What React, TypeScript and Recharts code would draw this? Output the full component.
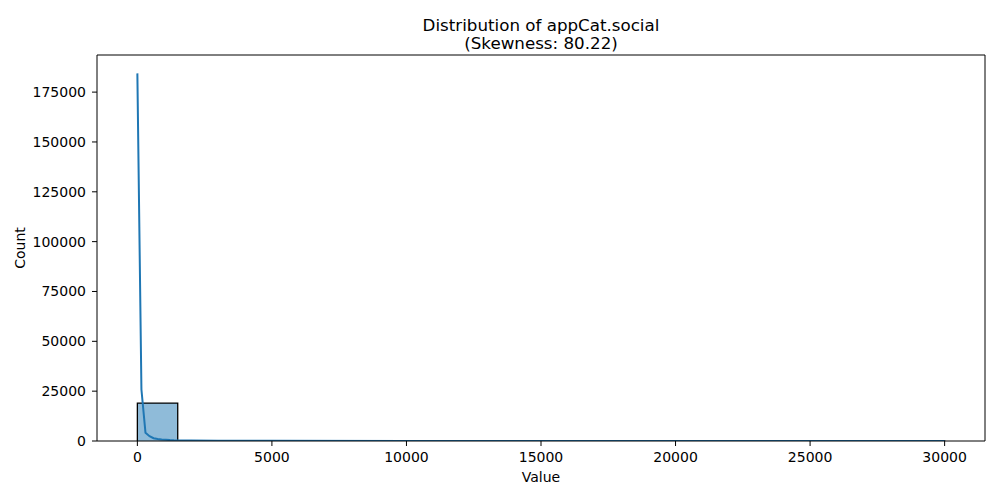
import {
  ComposedChart,
  Area,
  Line,
  XAxis,
  YAxis,
  Label,
} from "recharts";

// histogram of appCat.social: 20 bins of width 1500 between 0 and 30000
const binEdges = [
  0, 1500, 3000, 4500, 6000, 7500, 9000, 10500, 12000, 13500, 15000,
  16500, 18000, 19500, 21000, 22500, 24000, 25500, 27000, 28500, 30000,
];
const binCounts = [
  19000, 12, 5, 3, 2, 1, 1, 0, 1, 0, 0, 1, 0, 0, 0, 0, 0, 0, 0, 1,
];

// kde curve (scaled to counts)
const kdeX = [
  0, 151, 302, 452, 603, 754, 905, 1055, 1206, 1357, 1508, 2000, 3000,
  5000, 10000, 15000, 20000, 25000, 30000,
];
const kdeY = [
  184400, 25800, 4100, 2400, 1400, 1000, 750, 600, 450, 350, 300, 200, 120,
  80, 40, 20, 10, 10, 10,
];

const xTicks = [0, 5000, 10000, 15000, 20000, 25000, 30000];
const yTicks = [0, 25000, 50000, 75000, 100000, 125000, 150000, 175000];

const titleLines = ["Distribution of appCat.social", "(Skewness: 80.22)"];

// step outline for the bars, built from the bins
const histData = [
  { x: binEdges[0], h: 0 },
  ...binCounts.map((c, i) => ({ x: binEdges[i], h: c })),
  { x: binEdges[binEdges.length - 1], h: 0 },
];
const kdeData = kdeX.map((x, i) => ({ x, y: kdeY[i] }));

const font = "'DejaVu Sans', sans-serif";
const tickStyle = { fill: "#000", fontSize: 14, fontFamily: font };

const App = () => {
  const yMax = Math.max(...kdeY) * 1.05;

  return (
    <div style={{ position: "absolute", left: 0, top: 0, width: 1000, height: 500, background: "#fff" }}>
      {/* title */}
      <div
        style={{
          position: "absolute",
          left: 97,
          width: 888,
          top: 15.5,
          textAlign: "center",
          fontFamily: font,
          fontSize: 16.7,
          lineHeight: "18.5px",
          color: "#000",
        }}
      >
        {titleLines.map((t) => (
          <div key={t}>{t}</div>
        ))}
      </div>

      <ComposedChart
        width={1000}
        height={500}
        margin={{ top: 54, right: 14, bottom: 0, left: 0 }}
      >
        <XAxis
          dataKey="x"
          type="number"
          domain={[-1500, 31500]}
          ticks={xTicks}
          allowDataOverflow
          height={59}
          tickSize={5}
          tickMargin={6}
          tick={tickStyle}
          stroke="#000"
          tickLine={{ stroke: "#000" }}
          axisLine={{ stroke: "#000" }}
        >
          <Label
            content={({ viewBox }: any) => (
              <text
                x={viewBox.x + viewBox.width / 2}
                y={viewBox.y + 35.5}
                textAnchor="middle"
                dominantBaseline="central"
                fontFamily={font}
                fontSize={14}
                fill="#000"
              >
                Value
              </text>
            )}
          />
        </XAxis>
        <XAxis
          xAxisId="top"
          orientation="top"
          type="number"
          domain={[-1500, 31500]}
          height={1}
          tick={false}
          tickLine={false}
          axisLine={{ stroke: "#000" }}
        />
        <YAxis
          type="number"
          domain={[0, yMax]}
          ticks={yTicks}
          allowDataOverflow
          width={97}
          tickSize={5}
          tickMargin={6}
          tick={tickStyle}
          tickLine={{ stroke: "#000" }}
          axisLine={{ stroke: "#000" }}
        >
          <Label
            content={({ viewBox }: any) => {
              const cx = 20;
              const cy = viewBox.y + viewBox.height / 2;
              return (
                <text
                  x={cx}
                  y={cy}
                  transform={`rotate(-90, ${cx}, ${cy})`}
                  textAnchor="middle"
                  dominantBaseline="central"
                  fontFamily={font}
                  fontSize={14}
                  fill="#000"
                >
                  Count
                </text>
              );
            }}
          />
        </YAxis>
        <YAxis
          yAxisId="right"
          orientation="right"
          width={1}
          tick={false}
          tickLine={false}
          axisLine={{ stroke: "#000" }}
        />

        <Area
          data={histData}
          dataKey="h"
          type="stepAfter"
          fill="#8fbbd9"
          fillOpacity={1}
          stroke="#000"
          strokeWidth={1.3}
          isAnimationActive={false}
          dot={false}
          activeDot={false}
        />
        <Line
          data={kdeData}
          dataKey="y"
          type="linear"
          stroke="#1f77b4"
          strokeWidth={2}
          dot={false}
          activeDot={false}
          isAnimationActive={false}
        />
      </ComposedChart>
    </div>
  );
};

export default App;
